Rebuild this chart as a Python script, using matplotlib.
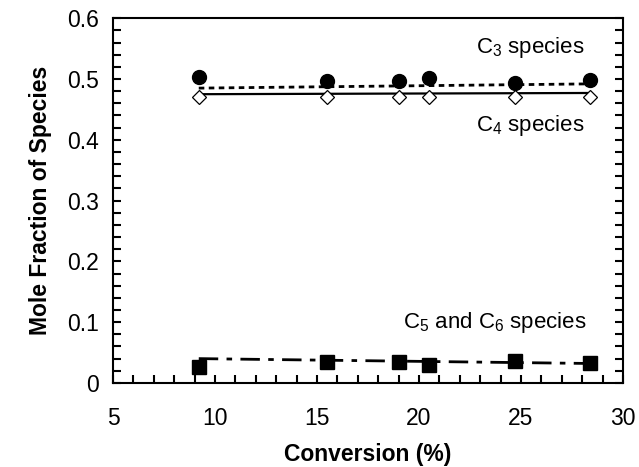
import matplotlib.pyplot as plt
from matplotlib.ticker import MultipleLocator

# Data
conversion = [9.2, 15.5, 19.0, 20.5, 24.7, 28.4]
c3 = [0.503, 0.497, 0.496, 0.501, 0.493, 0.499]
c4 = [0.470, 0.470, 0.470, 0.470, 0.470, 0.470]
c56 = [0.027, 0.034, 0.034, 0.029, 0.036, 0.033]

# trend line end points
fit_x = [9.2, 28.4]
c3_fit = [0.485, 0.492]
c4_fit = [0.475, 0.477]
c56_fit = [0.040, 0.032]

plt.rcParams['font.family'] = ['Liberation Sans', 'DejaVu Sans']
plt.rcParams['mathtext.fontset'] = 'custom'
plt.rcParams['mathtext.rm'] = 'Liberation Sans'

fig = plt.figure(figsize=(6.39, 4.67), dpi=100)
ax = fig.add_axes([0.177, 0.180, 0.798, 0.781])

ax.plot(fit_x, c3_fit, color='black', linestyle=(0, (2, 1.6)), linewidth=2)
ax.plot(fit_x, c4_fit, color='black', linestyle='-', linewidth=1.6)
ax.plot(fit_x, c56_fit, color='black', linestyle=(0, (7, 3, 2, 3)), linewidth=2)

ax.plot(conversion, c3, 'o', color='black', markersize=10, linestyle='none')
ax.plot(conversion, c4, 'D', markerfacecolor='white', markeredgecolor='black',
        markersize=7.5, markeredgewidth=0.9, linestyle='none')
ax.plot(conversion, c56, 's', color='black', markersize=10, linestyle='none')

ax.text(28.1, 0.551, r'C$_\mathrm{3}$ species', ha='right', va='center', fontsize=16)
ax.text(28.1, 0.424, r'C$_\mathrm{4}$ species', ha='right', va='center', fontsize=16)
ax.text(28.2, 0.100, r'C$_\mathrm{5}$ and C$_\mathrm{6}$ species', ha='right', va='center', fontsize=16)

ax.set_xlim(5, 30)
ax.set_ylim(0, 0.6)
ax.xaxis.set_major_locator(MultipleLocator(5))
ax.xaxis.set_minor_locator(MultipleLocator(1))
ax.yaxis.set_major_locator(MultipleLocator(0.1))
ax.yaxis.set_minor_locator(MultipleLocator(0.02))
ax.set_yticks([0, 0.1, 0.2, 0.3, 0.4, 0.5, 0.6])
ax.set_yticklabels(['0', '0.1', '0.2', '0.3', '0.4', '0.5', '0.6'])

ax.tick_params(which='both', direction='in', top=False, right=True, width=1.5, labelsize=16.5)
ax.tick_params(which='major', length=6)
ax.tick_params(which='minor', length=6)
ax.tick_params(axis='x', pad=17)
ax.tick_params(axis='y', pad=10)
for s in ax.spines.values():
    s.set_linewidth(1.5)

ax.set_xlabel('Conversion (%)', fontsize=16.5, fontweight='bold', labelpad=10)
ax.set_ylabel('Mole Fraction of Species', fontsize=16.5, fontweight='bold', labelpad=11)

plt.savefig('out.png', dpi=100)
